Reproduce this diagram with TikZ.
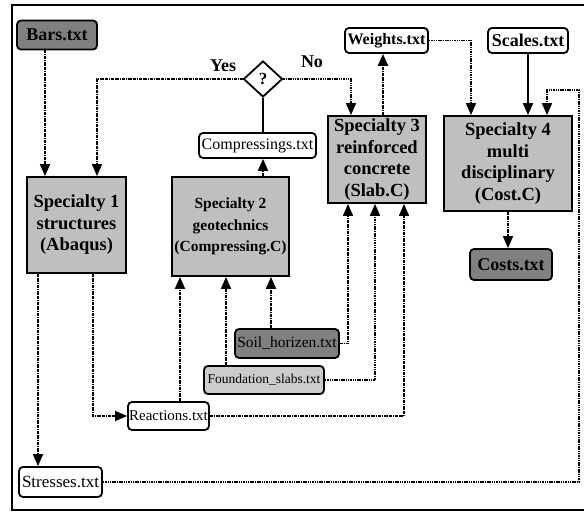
\documentclass[tikz,border=0pt]{standalone}
\usepackage{fontspec}
\setmainfont{Liberation Serif}
\usetikzlibrary{arrows.meta,shapes.geometric}
\begin{document}
\begin{tikzpicture}[x=1pt,y=-1pt,
        spec/.style={draw,line width=1.8pt,fill=black!25,align=center,inner sep=1pt,
          font=\bfseries\fontsize{18.5}{21.5}\selectfont},
        file/.style={draw,line width=1.8pt,rounded corners=4pt,fill=white,inner sep=1pt,
          font=\fontsize{16}{18}\selectfont},
        bigfile/.style={file,font=\bfseries\fontsize{18}{20}\selectfont},
        darkfile/.style={fill=black!50},
        decision/.style={draw,shape=diamond,line width=1.8pt,inner sep=0pt,
          minimum width=39pt,minimum height=36pt,font=\bfseries\fontsize{17}{19}\selectfont},
        lbl/.style={font=\bfseries\fontsize{18}{20}\selectfont},
        link/.style={line width=1.6pt,dash pattern=on 3pt off 0.8pt on 1pt off 0.8pt,
          -{Triangle[length=12pt,width=10pt]}},
        dots/.style={line width=1.6pt,dash pattern=on 1.5pt off 0.8pt,
          -{Triangle[length=12pt,width=10pt]}},
        plain/.style={line width=1.8pt,-{Triangle[length=12pt,width=10pt]}}]
        \useasboundingbox (0,0) rectangle (584,513);
        \draw [line width=1.8pt] (584,5) -- (12,5) -- (12,510) -- (584,510);
        \node [bigfile,darkfile,minimum width=80pt,minimum height=29pt] (bars) at (57,35) {Bars.txt};
        \node [spec,minimum width=99pt,minimum height=96pt] (spec1) at (76.5,225) {Specialty 1\\structures\\(Abaqus)};
        \node [spec,minimum width=117pt,minimum height=99pt,font=\bfseries\fontsize{15.5}{21.5}\selectfont] (spec2) at (230.5,226.5) {Specialty 2\\geotechnics\\(Compressing.C)};
        \node [spec,minimum width=98pt,minimum height=87pt] (spec3) at (377,159.5) {Specialty 3\\reinforced\\concrete\\(Slab.C)};
        \node [spec,minimum width=128pt,minimum height=95pt] (spec4) at (508,163.5) {Specialty 4\\multi\\disciplinary\\(Cost.C)};
        \node [file,minimum width=117pt,minimum height=25pt] (comp) at (257.5,145.5) {Compressings.txt};
        \node [decision] (q) at (263,79) {?};
        \node [lbl] (yes) at (223,66) {Yes};
        \node [lbl] (no) at (312,62) {No};
        \node [bigfile,minimum width=83pt,minimum height=25pt,font=\bfseries\fontsize{16}{18}\selectfont] (weights) at (386.5,40.5) {Weights.txt};
        \node [bigfile,minimum width=80pt,minimum height=25pt] (scales) at (528,40.5) {Scales.txt};
        \node [bigfile,darkfile,minimum width=82pt,minimum height=31pt] (costs) at (511,264.5) {Costs.txt};
        \node [file,darkfile,minimum width=104pt,minimum height=29pt,font=\fontsize{15.5}{18}\selectfont] (soil) at (287,343.5) {Soil\_horizen.txt};
        \node [file,fill=black!20,minimum width=120pt,minimum height=28pt,font=\fontsize{13.5}{16}\selectfont] (found) at (264,380) {Foundation\_slabs.txt};
        \node [file,minimum width=81pt,minimum height=28pt,font=\fontsize{15}{18}\selectfont] (react) at (168.5,416) {Reactions.txt};
        \node [file,minimum width=83pt,minimum height=30pt,font=\fontsize{17}{19}\selectfont] (stress) at (60.5,482) {Stresses.txt};
        \coordinate (back) at (579,90);
        \draw [link] ([xshift=-12pt]bars.south) -- ([xshift=-12pt]bars.south |- spec1.north);
        \draw [link] (q.west) -| ([xshift=20.5pt]spec1.north);
        \draw [line width=1.8pt] (q.south) -- (q.south |- comp.north);
        \draw [link] (q.south |- spec2.north) -- (q.south |- comp.south);
        \draw [dots] (q.east) -| ([xshift=-26pt]spec3.north);
        \draw [link,line width=2.4pt] ([xshift=6pt]spec3.north) -- ([xshift=6pt]spec3.north |- weights.south);
        \draw [dots] (weights.east) -| ([xshift=-37pt]spec4.north);
        \draw [plain] (scales.south) -- (scales.south |- spec4.north);
        \draw [dots] (stress.east) -| (back) -| ([xshift=39pt]spec4.north);
        \draw [link] (spec4.south) -- (spec4.south |- costs.north);
        \draw [link] ([xshift=-38.5pt]spec1.south) -- ([xshift=-38.5pt]spec1.south |- stress.north);
        \draw [link] ([xshift=16.5pt]spec1.south) |- (react.west);
        \draw [link] ([xshift=11.5pt]react.north) -- ([xshift=11.5pt]react.north |- spec2.south);
        \draw [link] ([xshift=-38pt]found.north) -- ([xshift=-38pt]found.north |- spec2.south);
        \draw [link,line width=2pt] ([xshift=-16pt]soil.north) -- ([xshift=-16pt]soil.north |- spec2.south);
        \draw [link] (soil.east) -| ([xshift=-29pt]spec3.south);
        \draw [dots] (found.east) -| ([xshift=-2pt]spec3.south);
        \draw [link] (react.east) -| ([xshift=27pt]spec3.south);
\end{tikzpicture}
\end{document}
